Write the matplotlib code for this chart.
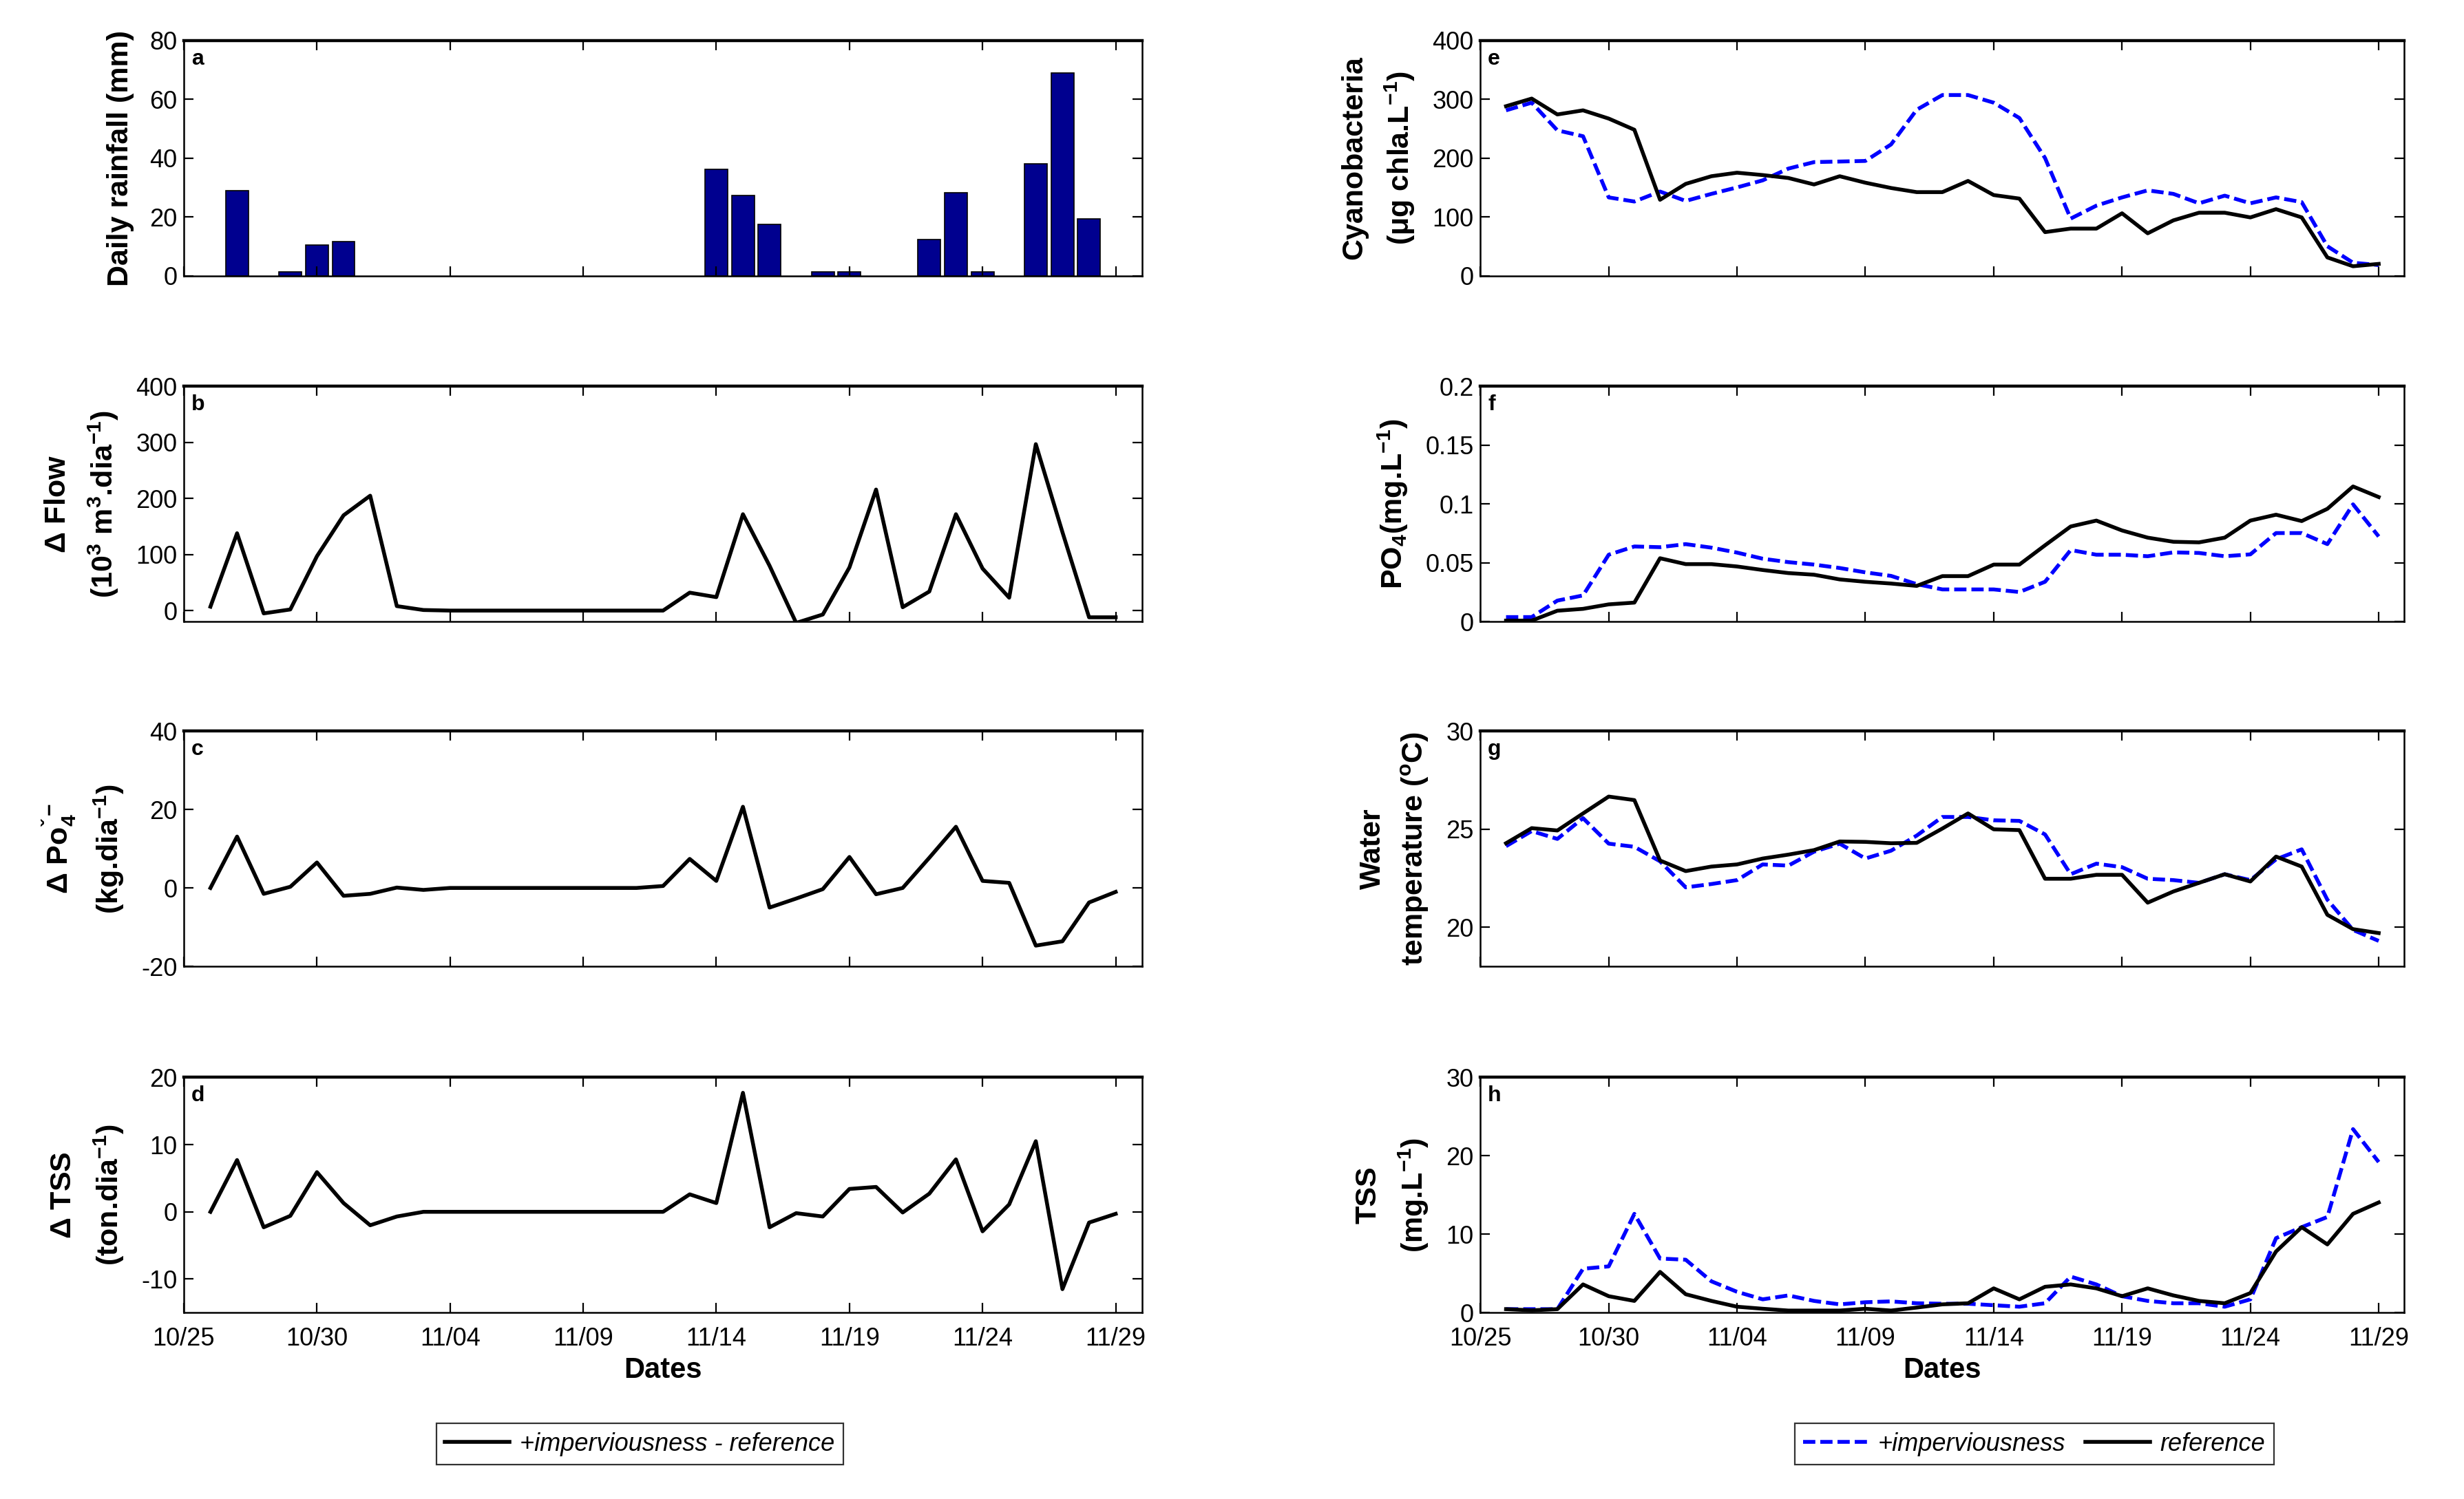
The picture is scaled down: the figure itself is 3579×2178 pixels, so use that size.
import matplotlib
matplotlib.use("Agg")
import matplotlib.pyplot as plt
import matplotlib.dates as mdates
from matplotlib.ticker import FuncFormatter, FixedLocator
from matplotlib.lines import Line2D
import pandas as pd

# ---------------- data ----------------
days = pd.date_range("2012-10-26", "2012-11-29", freq="D")

rain_dates = pd.to_datetime(["2012-10-27", "2012-10-29", "2012-10-30", "2012-10-31",
                             "2012-11-14", "2012-11-15", "2012-11-16", "2012-11-18",
                             "2012-11-19", "2012-11-22", "2012-11-23", "2012-11-24",
                             "2012-11-26", "2012-11-27", "2012-11-28"])
rain_mm = [29.0, 1.2, 10.4, 11.6, 36.2, 27.2, 17.5, 1.2, 1.2, 12.3, 28.3, 1.2, 38.1, 69.0, 19.4]

d_flow = [7, 138, -5, 2, 97, 170, 205, 8, 1,
          0, 0, 0, 0, 0, 0, 0, 0, 0,
          32, 24, 172, 80, -22, -7, 77, 216, 6, 34, 172, 75, 23, 297, 140, -12, -12]
d_po4 = [0, 13.1, -1.5, 0.3, 6.5, -2.0, -1.5, 0.1, -0.5,
         0, 0, 0, 0, 0, 0, 0, 0,
         0.5, 7.4, 1.8, 20.7, -5.0, -2.7, -0.3, 7.9, -1.6, 0, 7.7, 15.6, 1.8, 1.3, -14.7, -13.6, -3.7, -1.0]
d_tss = [0, 7.7, -2.3, -0.6, 5.9, 1.3, -2.0, -0.7, 0,
         0, 0, 0, 0, 0, 0, 0, 0, 0,
         2.6, 1.3, 17.7, -2.3, -0.2, -0.7, 3.4, 3.7, -0.1, 2.7, 7.8, -2.9, 1.1, 10.5, -11.5, -1.6, -0.3]

cyano_ref = [288, 301, 274, 281, 267, 248, 129, 156, 169, 175, 171, 166, 155, 169, 158, 149, 142, 142,
             161, 137, 131, 74, 80, 80, 106, 72, 94, 107, 107, 99, 113, 99, 31, 16, 20]
cyano_imp = [281, 294, 247, 237, 133, 126, 143, 127, 139, 150, 162, 182, 193, 194, 195, 223, 282, 307,
             307, 294, 268, 200, 97, 119, 133, 145, 139, 123, 136, 123, 133, 125, 50, 22, 18]

po4_ref = [0.001, 0.001, 0.0094, 0.011, 0.0148, 0.0163, 0.054, 0.049, 0.049, 0.047, 0.044, 0.0414,
           0.040, 0.036, 0.034, 0.0325, 0.0305, 0.0388, 0.0388, 0.0486, 0.0486, 0.065, 0.081, 0.086,
           0.0776, 0.0715, 0.068, 0.0675, 0.0715, 0.086, 0.091, 0.0856, 0.096, 0.115, 0.106]
po4_imp = [0.004, 0.004, 0.018, 0.0224, 0.057, 0.064, 0.0634, 0.066, 0.063, 0.0588, 0.0536, 0.0507,
           0.0486, 0.0457, 0.042, 0.039, 0.032, 0.0275, 0.0275, 0.0275, 0.0253, 0.034, 0.061, 0.057,
           0.057, 0.0557, 0.059, 0.0585, 0.0557, 0.0573, 0.0754, 0.0754, 0.066, 0.0998, 0.0725]

temp_ref = [24.28, 25.05, 24.93, 25.8, 26.66, 26.48, 23.4, 22.86, 23.09, 23.2, 23.5, 23.7, 23.93,
            24.37, 24.35, 24.28, 24.3, 25.03, 25.8, 24.99, 24.95, 22.47, 22.47, 22.67, 22.67, 21.25,
            21.82, 22.26, 22.7, 22.33, 23.6, 23.09, 20.63, 19.9, 19.7]
temp_imp = [24.13, 24.9, 24.5, 25.56, 24.26, 24.1, 23.36, 22.03, 22.2, 22.4, 23.2, 23.14, 23.85,
            24.26, 23.5, 23.9, 24.67, 25.62, 25.62, 25.45, 25.42, 24.73, 22.7, 23.24, 23.06, 22.47,
            22.4, 22.26, 22.7, 22.4, 23.46, 23.97, 21.4, 19.86, 19.3]

tss_ref = [0.45, 0.3, 0.45, 3.6, 2.1, 1.5, 5.2, 2.35, 1.5, 0.76, 0.5, 0.27, 0.27, 0.27, 0.5, 0.27,
           0.65, 1.06, 1.2, 3.1, 1.7, 3.3, 3.6, 3.1, 2.1, 3.1, 2.2, 1.5, 1.2, 2.5, 7.8, 10.9, 8.7, 12.6, 14.05]
tss_imp = [0.45, 0.45, 0.45, 5.6, 5.9, 12.6, 6.9, 6.75, 4.0, 2.66, 1.7, 2.2, 1.5, 1.06, 1.33, 1.44,
           1.2, 1.14, 1.14, 0.95, 0.76, 1.2, 4.6, 3.6, 2.1, 1.5, 1.2, 1.2, 0.76, 1.7, 9.5, 10.9, 12.2, 23.4, 19.2]

tick_dates = pd.to_datetime(["2012-10-25", "2012-10-30", "2012-11-04", "2012-11-09",
                             "2012-11-14", "2012-11-19", "2012-11-24", "2012-11-29"])
xlim_dates = pd.to_datetime(["2012-10-25", "2012-11-30"])

# ---------------- style ----------------
SANS = ["Liberation Sans", "DejaVu Sans"]
plt.rcParams["font.family"] = SANS
plt.rcParams["mathtext.fontset"] = "custom"
plt.rcParams["mathtext.rm"] = "Liberation Sans:bold"
plt.rcParams["mathtext.it"] = "Liberation Sans:bold"
plt.rcParams["mathtext.bf"] = "Liberation Sans:bold"

TICK_FS = 13
LAB_FS = 15.5
BLUE = "#0000FF"
LW = 2.0
DASH = (0, (3.2, 1.3))

fig = plt.figure(figsize=(17.895, 10.89), dpi=200)

bottoms = [0.8161, 0.5852, 0.3553, 0.1243]
H = 0.157
left_x, left_w = 0.0746, 0.389
right_x, right_w = 0.6008, 0.375


def style(ax, ylim, yticks, letter, show_x=False):
    ax.set_xlim(xlim_dates[0], xlim_dates[1])
    ax.set_ylim(*ylim)
    ax.yaxis.set_major_locator(FixedLocator(yticks))
    ax.yaxis.set_major_formatter(FuncFormatter(lambda v, p: "{:g}".format(round(v, 6))))
    ax.set_xticks(tick_dates)
    ax.xaxis.set_major_formatter(mdates.DateFormatter("%m/%d"))
    ax.tick_params(direction="in", top=True, right=True, length=5, width=0.8,
                   labelsize=TICK_FS)
    ax.tick_params(axis="x", pad=7.5)
    if not show_x:
        ax.tick_params(labelbottom=False)
    for s in ax.spines.values():
        s.set_linewidth(0.9)
    ax.spines["top"].set_linewidth(1.6)
    ax.text(0.008, 0.965, letter, transform=ax.transAxes, va="top", ha="left",
            fontsize=11.5, fontweight="bold")


def ylab(ax, text, pad=8):
    ax.set_ylabel(text, fontsize=LAB_FS, fontweight="bold",
                  linespacing=1.55, labelpad=pad)


# ---- left column ----
axa = fig.add_axes([left_x, bottoms[0], left_w, H])
axa.bar(rain_dates, rain_mm, width=0.85, color="#00008F", edgecolor="black", linewidth=0.6)
style(axa, (0, 80), [0, 20, 40, 60, 80], "a")
ylab(axa, "Daily rainfall (mm)")

axb = fig.add_axes([left_x, bottoms[1], left_w, H])
axb.plot(days, d_flow, color="black", lw=LW)
style(axb, (-20, 400), [0, 100, 200, 300, 400], "b")
ylab(axb, "$\\Delta$ Flow\n(10$^3$ m$^3$.dia$^{-1}$)")

axc = fig.add_axes([left_x, bottoms[2], left_w, H])
axc.plot(days, d_po4, color="black", lw=LW)
style(axc, (-20, 40), [-20, 0, 20, 40], "c")
ylab(axc, "$\\Delta$ Po$_4^{\u02c7-}$\n(kg.dia$^{-1}$)")

axd = fig.add_axes([left_x, bottoms[3], left_w, H])
axd.plot(days, d_tss, color="black", lw=LW)
style(axd, (-15, 20), [-10, 0, 10, 20], "d", show_x=True)
ylab(axd, "$\\Delta$ TSS\n(ton.dia$^{-1}$)")
axd.set_xlabel("Dates", fontsize=15, fontweight="bold", labelpad=3)

# ---- right column ----
axe = fig.add_axes([right_x, bottoms[0], right_w, H])
axe.plot(days, cyano_imp, color=BLUE, lw=LW, ls=DASH)
axe.plot(days, cyano_ref, color="black", lw=LW)
style(axe, (0, 400), [0, 100, 200, 300, 400], "e")
ylab(axe, "Cyanobacteria\n($\\mu$g chla.L$^{-1}$)")

axf = fig.add_axes([right_x, bottoms[1], right_w, H])
axf.plot(days, po4_imp, color=BLUE, lw=LW, ls=DASH)
axf.plot(days, po4_ref, color="black", lw=LW)
style(axf, (0, 0.2), [0, 0.05, 0.1, 0.15, 0.2], "f")
ylab(axf, "PO$_4$(mg.L$^{-1}$)")

axg = fig.add_axes([right_x, bottoms[2], right_w, H])
axg.plot(days, temp_imp, color=BLUE, lw=LW, ls=DASH)
axg.plot(days, temp_ref, color="black", lw=LW)
style(axg, (18, 30), [20, 25, 30], "g")
ylab(axg, "Water\ntemperature ($^{o}$C)")

axh = fig.add_axes([right_x, bottoms[3], right_w, H])
axh.plot(days, tss_imp, color=BLUE, lw=LW, ls=DASH)
axh.plot(days, tss_ref, color="black", lw=LW)
style(axh, (0, 30), [0, 10, 20, 30], "h", show_x=True)
ylab(axh, "TSS\n(mg.L$^{-1}$)")
axh.set_xlabel("Dates", fontsize=15, fontweight="bold", labelpad=3)

# ---- legends ----
leg_font = {"style": "italic", "size": 13}
h1 = [Line2D([0], [0], color="black", lw=LW)]
l1 = fig.legend(h1, ["+imperviousness - reference"], loc="center",
                bbox_to_anchor=(0.2596, 0.0366), prop=leg_font, frameon=True,
                fancybox=False, edgecolor="black", handlelength=2.6, borderpad=0.35,
                handletextpad=0.4)
l1.get_frame().set_linewidth(0.8)

h2 = [Line2D([0], [0], color=BLUE, lw=LW, ls=DASH),
      Line2D([0], [0], color="black", lw=LW)]
l2 = fig.legend(h2, ["+imperviousness", "reference"], loc="center", ncol=2,
                bbox_to_anchor=(0.8256, 0.0366), prop=leg_font, frameon=True,
                fancybox=False, edgecolor="black", handlelength=2.6, borderpad=0.35,
                handletextpad=0.4, columnspacing=0.8)
l2.get_frame().set_linewidth(0.8)

fig.savefig("out.png", dpi=200)
